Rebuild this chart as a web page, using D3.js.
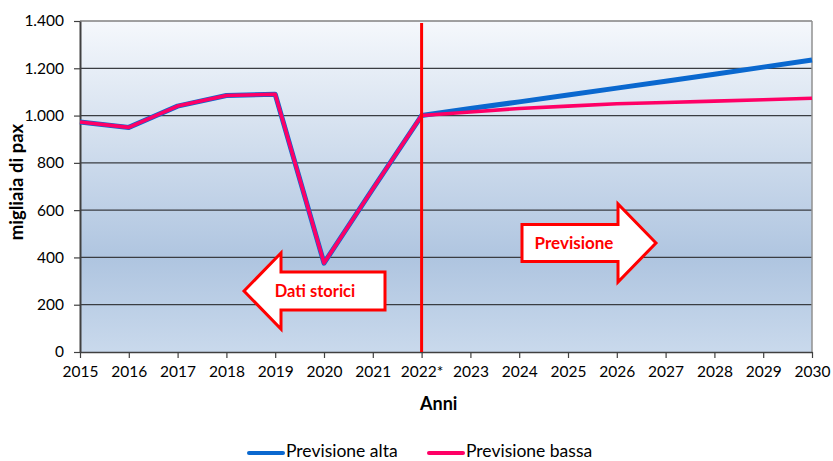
<!DOCTYPE html>
<html>
<head>
<meta charset="utf-8">
<script src="https://cdn.jsdelivr.net/npm/d3@7"></script>
<style>
  html, body { margin: 0; padding: 0; background: #fff; }
  svg { display: block; font-family: Lato, "Open Sans", sans-serif; }
</style>
</head>
<body>
<svg id="chart" width="833" height="461"></svg>
<script>
// Passenger traffic (thousands), history and two forecast scenarios
const years = [2015, 2016, 2017, 2018, 2019, 2020, 2021, 2022, 2023, 2024, 2025, 2026, 2027, 2028, 2029, 2030];
const yearLabels = ["2015", "2016", "2017", "2018", "2019", "2020", "2021", "2022*", "2023", "2024", "2025", "2026", "2027", "2028", "2029", "2030"];
const altaValues = [973, 950, 1040, 1085, 1090, 376, 690, 1000, 1030, 1058, 1087, 1116, 1145, 1175, 1205, 1235];
const bassaValues = [973, 950, 1040, 1085, 1090, 376, 690, 1000, 1015, 1030, 1040, 1050, 1055, 1061, 1067, 1073];
const yTicks = [0, 200, 400, 600, 800, 1000, 1200, 1400];
const seriesNames = ["Previsione alta", "Previsione bassa"];
const splitYear = 2022;

const svg = d3.select("#chart");
const margin = { left: 80, right: 21, top: 21, bottom: 109 };
const W = 833, H = 461;
const x = d3.scaleLinear().domain([2015, 2030]).range([margin.left, W - margin.right]);
const y = d3.scaleLinear().domain([0, 1400]).range([H - margin.bottom, margin.top]);

const fmt = v => d3.format(",")(v).replace(/,/g, ".");

// plot background gradient
const defs = svg.append("defs");
const grad = defs.append("linearGradient").attr("id", "bg").attr("x1", 0).attr("y1", 0).attr("x2", 0).attr("y2", 1);
grad.append("stop").attr("offset", "0%").attr("stop-color", "#f5f8fc");
grad.append("stop").attr("offset", "72%").attr("stop-color", "#afc5e0");
grad.append("stop").attr("offset", "100%").attr("stop-color", "#c9d9ec");

svg.append("rect")
  .attr("x", x(2015)).attr("y", y(1400))
  .attr("width", x(2030) - x(2015)).attr("height", y(0) - y(1400))
  .attr("fill", "url(#bg)");

// horizontal gridlines
svg.append("g").selectAll("line").data(yTicks.filter(d => d > 0 && d < 1400)).join("line")
  .attr("x1", x(2015)).attr("x2", x(2030))
  .attr("y1", d => y(d)).attr("y2", d => y(d))
  .attr("stroke", "#3a3d42").attr("stroke-width", 1.2);

// top and right frame
svg.append("line").attr("x1", x(2015)).attr("x2", x(2030)).attr("y1", y(1400)).attr("y2", y(1400))
  .attr("stroke", "#808080").attr("stroke-width", 1.5);
svg.append("line").attr("x1", x(2030)).attr("x2", x(2030)).attr("y1", y(1400)).attr("y2", y(0))
  .attr("stroke", "#909090").attr("stroke-width", 1.5);

// axes
const xAxis = d3.axisBottom(x).tickValues(years).tickFormat((d, i) => yearLabels[i]).tickSize(6).tickSizeOuter(0);
const gx = svg.append("g").attr("transform", `translate(0,${y(0)})`).call(xAxis);
gx.select(".domain").attr("stroke", "#404040").attr("stroke-width", 1.5);
gx.selectAll(".tick line").attr("stroke", "#404040").attr("stroke-width", 1.2);
gx.selectAll(".tick text").attr("font-size", 15.5).attr("fill", "#000").attr("dy", "1.05em")
  .attr("font-family", "Lato, sans-serif");

const yAxis = d3.axisLeft(y).tickValues(yTicks).tickFormat(fmt).tickSize(6).tickSizeOuter(0);
const gy = svg.append("g").attr("transform", `translate(${x(2015)},0)`).call(yAxis);
gy.select(".domain").attr("stroke", "#404040").attr("stroke-width", 2);
gy.selectAll(".tick line").attr("stroke", "#404040").attr("stroke-width", 1.2);
gy.selectAll(".tick text").attr("font-size", 15.5).attr("fill", "#000").attr("x", -16)
  .attr("font-family", "Lato, sans-serif");

// axis titles
svg.append("text").attr("x", x(2022.35)).attr("y", 410).attr("text-anchor", "middle")
  .attr("font-size", 18).attr("font-weight", "bold").text("Anni");
svg.append("text").attr("transform", `translate(23,182) rotate(-90)`).attr("text-anchor", "middle")
  .attr("font-size", 18.5).attr("font-weight", "bold").text("migliaia di pax");

// series lines
const line = d3.line().x((d, i) => x(years[i])).y(d => y(d));
svg.append("path").datum(altaValues).attr("d", line)
  .attr("fill", "none").attr("stroke", "#0a68cf").attr("stroke-width", 5).attr("stroke-linejoin", "round");
svg.append("path").datum(bassaValues).attr("d", line)
  .attr("fill", "none").attr("stroke", "#ff0066").attr("stroke-width", 3.6).attr("stroke-linejoin", "round");

// vertical separator between history and forecast
svg.append("line").attr("x1", x(splitYear)).attr("x2", x(splitYear))
  .attr("y1", y(1400) + 2).attr("y2", y(0))
  .attr("stroke", "#ff0000").attr("stroke-width", 3);

// block arrows
function arrow(cx, cy, dir, bodyLen, headLen, bodyH, headH, label, textX, size) {
  // cx,cy: tip point; dir -1 = pointing left, 1 = pointing right
  const pts = [
    [0, 0],
    [headLen, -headH / 2],
    [headLen, -bodyH / 2],
    [headLen + bodyLen, -bodyH / 2],
    [headLen + bodyLen, bodyH / 2],
    [headLen, bodyH / 2],
    [headLen, headH / 2]
  ].map(p => [cx - dir * p[0], cy + p[1]]);
  svg.append("path").attr("d", d3.line()(pts) + "Z")
    .attr("fill", "#fff").attr("stroke", "#ff0000").attr("stroke-width", 3).attr("stroke-linejoin", "miter");
  svg.append("text").attr("x", textX).attr("y", cy + 5.5).attr("text-anchor", "middle")
    .attr("font-size", size).attr("font-weight", "bold").attr("fill", "#ff0000").text(label);
}
arrow(244, 291, -1, 104, 37, 38, 76, "Dati storici", 315, 16.5);
arrow(656, 243, 1, 96, 38, 37, 78, "Previsione", 574, 17);

// legend
const legend = svg.append("g");
const legendColors = ["#0a68cf", "#ff0066"];
const legendX = [249, 429];
seriesNames.forEach((name, i) => {
  legend.append("line").attr("x1", legendX[i]).attr("x2", legendX[i] + 34)
    .attr("y1", 453).attr("y2", 453)
    .attr("stroke", legendColors[i]).attr("stroke-width", 4).attr("stroke-linecap", "round");
  legend.append("text").attr("x", legendX[i] + 37).attr("y", 457)
    .attr("font-size", 17.5).attr("fill", "#000").text(name);
});
</script>
</body>
</html>
